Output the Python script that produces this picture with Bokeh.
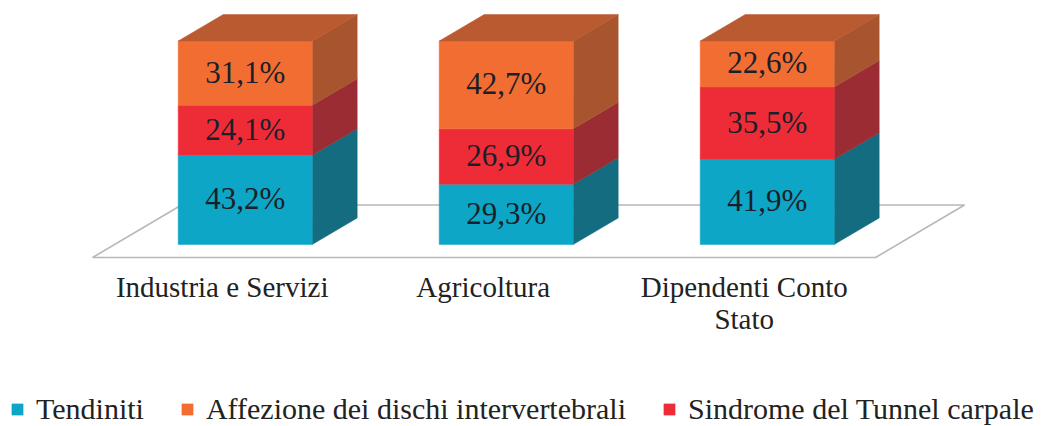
from bokeh.plotting import figure
from bokeh.models import Range1d, Legend, LegendItem, ColumnDataSource
from bokeh.embed import file_html
from bokeh.resources import INLINE
from bokeh.core.properties import value

categories = ["Industria e Servizi", "Agricoltura", "Dipendenti Conto\nStato"]
tendiniti = [43.2, 29.3, 41.9]
affezione = [31.1, 42.7, 22.6]
sindrome = [24.1, 26.9, 35.5]
series_names = ["Tendiniti", "Affezione dei dischi intervertebrali", "Sindrome del Tunnel carpale"]
pct_labels_t = ["43,2%", "29,3%", "41,9%"]
pct_labels_a = ["31,1%", "42,7%", "22,6%"]
pct_labels_s = ["24,1%", "26,9%", "35,5%"]

FONT = "Liberation Serif"
W, H = 1043, 426
X0, XS = 244.7, 261.0     # px of first category, px per category
Y0, YS = 244.0, 2.035     # px of 0 %, px per %
HALF = 67.0 / XS
DX, DY = 45.0 / XS, 26.5 / YS
LABEL_SHIFT = 23.0 / XS   # category labels sit under the floor's front edge, left of the bars
LABEL_Y = (Y0 - 270.0) / YS

p = figure(frame_width=W, frame_height=H, output_backend="svg", toolbar_location=None,
           x_range=Range1d(-X0 / XS, (W - X0) / XS),
           y_range=Range1d(-(H - Y0) / YS, Y0 / YS),
           y_axis_location=None, x_axis_location=None, min_border=0,
           background_fill_color="white", border_fill_color="white")
p.outline_line_color = None
p.grid.visible = False

# floor
p.patch([-0.585, 2.415, 2.415 + 0.341, -0.585 + 0.341],
        [-6.4, -6.4, 19.4, 19.4], fill_color="white", line_color="#b8b8b8", line_width=1.6)

# stacking order bottom → top: tendiniti, sindrome, affezione
stack = [(tendiniti, pct_labels_t, "#0DA6C6", "#146C80", series_names[0]),
         (sindrome, pct_labels_s, "#EE2C38", "#9B2C34", series_names[2]),
         (affezione, pct_labels_a, "#F26D32", "#A8552F", series_names[1])]

totals = [sum(s[0][i] for s in stack) for i in range(3)]
base = [0.0, 0.0, 0.0]
fronts = {}
for vals, labs, col, side, name in stack:
    norm = [v / t * 100 for v, t in zip(vals, totals)]
    top = [b + n for b, n in zip(base, norm)]
    xs = [[i + HALF, i + HALF + DX, i + HALF + DX, i + HALF] for i in range(3)]
    ys = [[b, b + DY, t + DY, t] for b, t in zip(base, top)]
    p.patches(xs, ys, fill_color=side, line_color=side, line_width=0.5)
    fronts[name] = p.quad(left=[i - HALF for i in range(3)], right=[i + HALF for i in range(3)],
                          bottom=base, top=top, fill_color=col, line_color=col, line_width=0.5)
    src = ColumnDataSource(dict(x=list(range(3)), y=[(b + t) / 2 for b, t in zip(base, top)], t=labs))
    p.text("x", "y", text="t", source=src, text_align="center", text_baseline="middle", y_offset=-1,
           text_font=value(FONT), text_font_size="31px", text_color="#1b1f2a")
    base = top

# top faces
xs = [[i - HALF, i + HALF, i + HALF + DX, i - HALF + DX] for i in range(3)]
ys = [[t, t, t + DY, t + DY] for t in base]
p.patches(xs, ys, fill_color="#BA5A30", line_color="#BA5A30", line_width=0.5)

# category labels
cat_src = ColumnDataSource(dict(x=[i - LABEL_SHIFT for i in range(3)], y=[LABEL_Y] * 3, t=categories))
p.text("x", "y", text="t", source=cat_src, text_align="center", text_baseline="top",
       text_font=value(FONT), text_font_size="29px", text_color="#222222", text_line_height=1.0)

legend = Legend(items=[LegendItem(label=n, renderers=[fronts[n]]) for n in series_names],
                orientation="horizontal", location=(10, 0), border_line_color=None,
                background_fill_alpha=0, glyph_width=14, glyph_height=14, label_standoff=12,
                spacing=36, margin=0, padding=0,
                label_text_font=FONT, label_text_font_size="30px", label_text_color="#222222")
p.add_layout(legend)

open("out.html", "w").write(file_html(p, INLINE))
